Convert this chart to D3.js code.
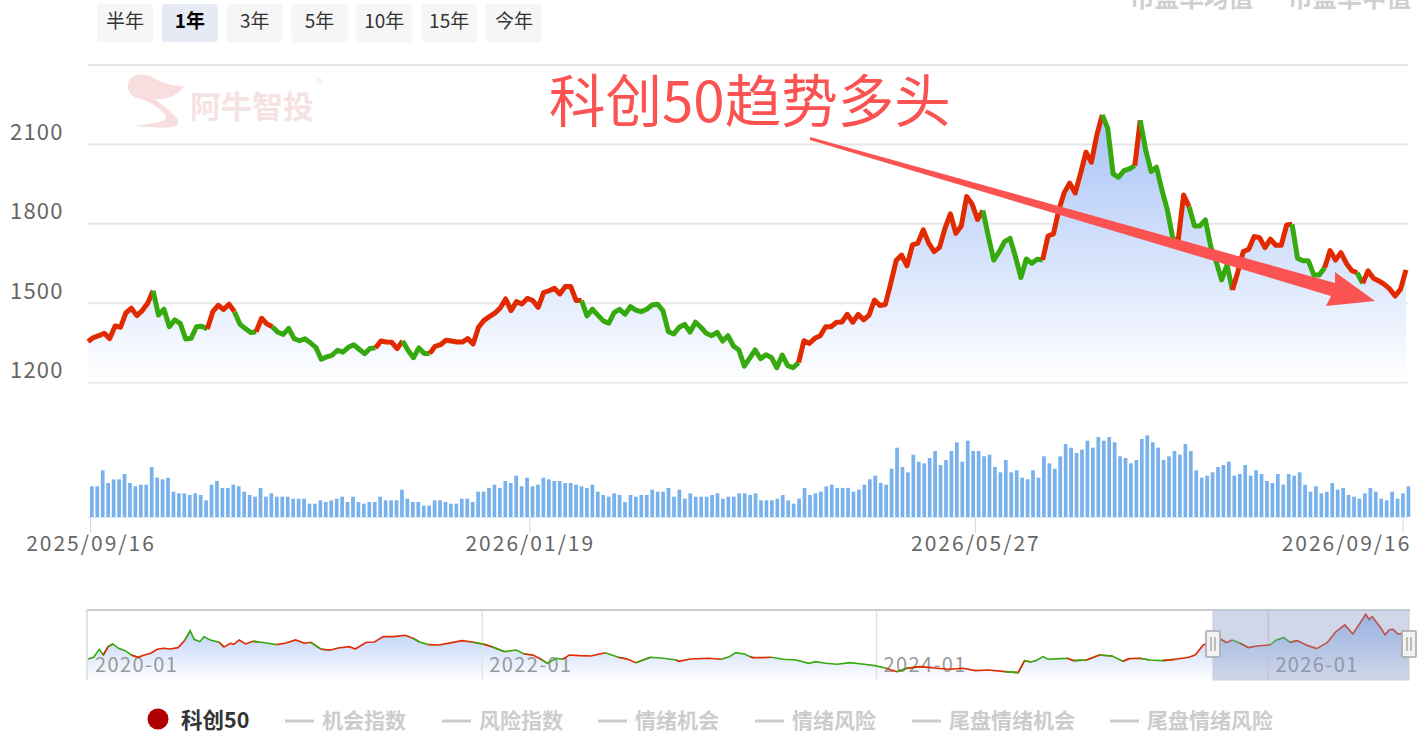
<!DOCTYPE html>
<html><head><meta charset="utf-8">
<script src="https://cdn.jsdelivr.net/npm/d3@7/dist/d3.min.js"></script>
<style>html,body{margin:0;padding:0;background:#fff;overflow:hidden}svg{display:block;font-family:"Noto Sans CJK SC","Noto Sans",sans-serif}</style>
</head><body><svg id="c" width="1419" height="744"></svg>
<script>
const rangeLabels=["半年","1年","3年","5年","10年","15年","今年"];
const yTicks=[1200,1500,1800,2100,2400];
const xTickIndex=[0,81,163,242];
const xTickLabels=["2025/09/16","2026/01/19","2026/05/27","2026/09/16"];
const legendOff=["机会指数","风险指数","情绪机会","情绪风险","尾盘情绪机会","尾盘情绪风险"];
const overviewTickPos=[0,490,980,1467];
const overviewTickLabels=["2020-01","2022-01","2024-01","2026-01"];
const prices=[1353,1368,1375,1384,1364,1412,1407,1462,1479,1451,1470,1498,1545,1453,1475,1409,1435,1422,1363,1365,1409,1411,1400,1466,1490,1474,1494,1466,1419,1402,1387,1390,1441,1419,1409,1388,1380,1403,1364,1356,1363,1348,1331,1286,1295,1301,1320,1313,1331,1341,1324,1307,1327,1329,1355,1351,1350,1326,1355,1320,1292,1329,1308,1308,1335,1341,1358,1355,1351,1351,1364,1344,1407,1433,1447,1460,1480,1514,1470,1504,1495,1516,1508,1482,1538,1545,
1554,1533,1561,1561,1508,1508,1450,1475,1453,1431,1422,1462,1475,1456,1485,1472,1466,1475,1491,1494,1470,1390,1382,1407,1418,1389,1426,1407,1384,1375,1388,1355,1375,1336,1321,1260,1290,1321,1288,1303,1293,1254,1302,1262,1254,1273,1356,1346,1365,1375,1409,1409,1426,1427,1456,1426,1456,1435,1453,1510,1489,1493,
1573,1659,1680,1639,1718,1725,1775,1725,1693,1709,1781,1836,1762,1790,1901,1873,1815,1848,1750,1661,1693,1731,1743,1674,1595,1665,1649,1664,1661,1752,1760,1851,1916,1952,1914,1989,2069,2031,2134,2210,2160,1987,1974,1999,2006,2018,2189,2078,1996,2012,1926,1851,1743,1737,1907,1863,1790,1790,1813,1712,1655,1586,1643,1548,1617,1693,1702,1750,1746,1708,1740,1717,1717,1794,1796,1668,1658,1658,1605,1605,1632,1697,1661,1689,1649,1621,1613,1573,1620,1592,1582,1569,1552,1525,1551,1624];
const trendStarts=[0,12,22,27,31,34,53,58,63,91,131,165,176,187,193,194,201,203,211,222,228,234,235];
const trendKinds=["up","down","up","down","up","down","up","down","up","down","up","down","up","down","up","down","up","down","up","down","up","down","up"];
const volumes=[92,92,140,102,113,113,129,102,92,97,97,150,118,113,118,76,71,71,66,71,66,50,97,108,87,87,97,92,76,66,61,87,61,71,61,61,61,55,55,55,40,40,50,45,50,55,61,45,61,45,40,45,45,61,50,50,50,82,55,45,45,34,34,50,50,45,40,40,55,55,45,76,76,87,97,87,108,102,124,92,118,92,97,118,113,108,108,102,102,97,92,87,97,76,66,61,71,66,45,66,61,66,66,82,76,76,87,61,82,55,71,61,61,61,
66,71,55,61,61,71,71,66,71,50,50,50,55,66,50,40,55,87,66,71,76,92,97,87,87,87,76,82,97,113,124,102,97,145,208,150,134,187,166,161,177,198,156,171,198,224,166,229,198,198,182,187,150,134,171,134,140,118,113,140,118,182,161,145,182,219,208,192,202,229,208,240,229,240,224,182,177,161,171,234,245,224,208,171,182,198,187,219,198,140,118,124,134,150,156,166,124,129,156,124,140,129,108,102,129,97,129,124,134,97,76,92,71,76,102,82,87,66,61,55,71,87,76,55,50,76,55,71,92];
const overviewIndex=[0,7,14,19,25,31,38,46,54,62,70,78,86,94,102,112,120,127,132,139,144,152,163,169,177,181,188,196,205,213,224,234,245,258,269,277,290,301,311,325,332,346,356,367,380,394,404,412,423,436,452,465,479,492,502,518,532,542,553,563,571,582,590,598,611,625,643,659,670,681,699,715,731,734,749,771,787,797,805,816,823,
827,838,849,864,880,896,904,917,931,947,962,978,992,1005,1018,1034,1055,1071,1087,1103,1119,1140,1156,1164,1172,1178,1187,1193,1209,1217,1225,1241,1257,1273,1286,1294,1307,1320,1336,1352,1368,1376,1386,1397,1408,1415,1422,1432,1442,1453,1469,1477,1486,1494,1503,1514,1527,1540,1551,1562,1572,1588,1592,1596,1607,1612,1617,1622,1628,1641];
const overviewValues=[968,1015,1237,1079,1311,1385,1265,1200,1079,1015,1079,1126,1237,1265,1246,1283,1478,1756,1515,1450,1589,1497,1432,1302,1404,1376,1497,1385,1459,1441,1404,1367,1404,1497,1404,1432,1237,1219,1274,1311,1246,1432,1441,1589,1589,1626,1543,1441,1367,1358,1422,1478,1432,1376,1311,1172,1219,1107,1079,959,848,987,959,1079,1061,1052,1144,1015,968,866,1015,987,940,903,968,987,959,1033,1144,1107,1033,
1005,1005,1015,959,940,848,894,848,820,866,829,783,709,616,709,755,709,681,709,644,662,616,588,922,885,922,1033,959,977,987,922,940,1079,1052,903,977,987,940,922,959,1015,1079,1358,1450,1515,1422,1497,1404,1283,1330,1358,1497,1561,1432,1478,1358,1256,1422,1728,1914,1663,2210,2071,2145,1821,1636,1775,1793,1663,1682];
const overviewStarts=[0,25,31,62,127,169,213,240,290,301,412,430,492,502,518,553,571,596,650,670,699,734,790,827,850,1000,1018,1034,1156,1164,1172,1225,1241,1257,1273,1294,1320,1352,1408,1415,1425,1442,1470,1503,1530,1537];
const overviewKinds=["down","up","down","up","down","up","down","up","down","up","down","up","down","up","down","up","down","up","down","up","down","up","down","up","down","up","down","up","down","up","down","up","down","up","down","up","down","up","down","up","down","up","down","up","down","up"];

const RED="#e22a00",GREEN="#36a90f",ACC="#fb5252";
const svg=d3.select("#c");
const defs=svg.append("defs");
const g1=defs.append("linearGradient").attr("id","ga").attr("gradientUnits","userSpaceOnUse").attr("x1",0).attr("x2",0).attr("y1",115).attr("y2",382);
g1.append("stop").attr("offset",0).attr("stop-color","#a8c3f7");
g1.append("stop").attr("offset",1).attr("stop-color","#ffffff");
const g2=defs.append("linearGradient").attr("id","gb").attr("gradientUnits","userSpaceOnUse").attr("x1",0).attr("x2",0).attr("y1",614).attr("y2",680);
g2.append("stop").attr("offset",0).attr("stop-color","#a9c3f6");
g2.append("stop").attr("offset",1).attr("stop-color","#ffffff");

// range buttons
const btnX=d3.scalePoint().domain(rangeLabels).range([97,486]);
rangeLabels.forEach((t,i)=>{
  const x=btnX(t);
  svg.append("rect").attr("x",x).attr("y",4).attr("width",56).attr("height",38).attr("rx",3).attr("fill",i==1?"#e6eaf5":"#f6f6f6");
  svg.append("text").attr("x",x+28).attr("y",28).attr("text-anchor","middle").attr("font-size",19).attr("font-weight",i==1?700:400).attr("fill",i==1?"#000":"#333").text(t);
});
// labels clipped by the top edge, as in the reference
[["市盈率均值",1130],["市盈率中值",1288]].forEach(([t,x])=>svg.append("text").attr("x",x).attr("y",7).attr("font-size",24.6).attr("font-weight",700).attr("fill","#cfcfcf").text(t));

// main scales
const x=d3.scalePoint().domain(d3.range(prices.length)).range([88,1406]);
const y=d3.scaleLinear().domain([1200,2400]).range([382,64.6]);
const yAxis=d3.axisLeft(y).tickValues(yTicks).tickSize(-1320).tickFormat("");
const gy=svg.append("g").attr("transform","translate(88,0)").call(yAxis);
gy.select(".domain").remove();
gy.selectAll("line").attr("stroke","#e6e6e6").attr("stroke-width",2);
yTicks.filter(v=>v<2400).forEach(v=>svg.append("text").attr("x",10).attr("y",y(v)-4).attr("font-size",22).attr("letter-spacing",1.2).attr("fill","#666").text(v));

// watermark
const wm=svg.append("g").attr("fill","#f8dede");
wm.append("path").attr("d","M128 84C130 74 142 72 152 77C162 83 170 86 184 86C178 96 166 100 155 99C165 108 180 116 178 124C174 130 150 127 134 126C150 124 168 122 166 116C160 108 148 100 136 98C130 95 127 90 128 84Z");
wm.append("text").attr("x",190).attr("y",118).attr("font-size",31).attr("font-weight",700).attr("fill","#f6e2e2").text("阿牛智投");
wm.append("text").attr("x",316).attr("y",89).attr("font-size",14).attr("fill","#f9e6e6").text("®");

// area + coloured line
svg.append("path").attr("d",d3.area().x((d,i)=>x(i)).y0(382).y1(d=>y(d))(prices)).attr("fill","url(#ga)");
const line=d3.line().x(d=>x(d.i)).y(d=>y(d.v));
const pts=prices.map((v,i)=>({i,v}));
trendStarts.forEach((s,k)=>{
  const e=k+1<trendStarts.length?trendStarts[k+1]:prices.length-1;
  svg.append("path").attr("d",line(pts.slice(s,e+1))).attr("fill","none").attr("stroke",trendKinds[k]=="up"?RED:GREEN).attr("stroke-width",5).attr("stroke-linejoin","round");
});

// volume
const b=d3.scaleBand().domain(d3.range(volumes.length)).range([90,1412]);
const v=d3.scaleLinear().domain([0,300]).range([517,417]);
svg.append("line").attr("x1",88).attr("x2",1408).attr("y1",517.5).attr("y2",517.5).attr("stroke","#dfe6f3").attr("stroke-width",1);
svg.selectAll("rect.v").data(volumes).join("rect").attr("class","v").attr("x",(d,i)=>b(i)).attr("width",3.7).attr("y",d=>v(d)).attr("height",d=>517-v(d)).attr("fill","#78b1ec");

// x ticks
xTickIndex.forEach((ix,k)=>{
  const px=x(ix)+2.5+(k==2?0.8:0);
  svg.append("line").attr("x1",px).attr("x2",px).attr("y1",517).attr("y2",533).attr("stroke","#ccd6eb").attr("stroke-width",1);
  const lx=Math.min(px,1346);
  svg.append("text").attr("x",lx+0.5).attr("y",551).attr("text-anchor","middle").attr("font-size",21).attr("letter-spacing",2).attr("fill","#666").text(xTickLabels[k]);
});

// overview
const ox=d3.scaleLinear().domain([0,1643]).range([88,1410]);
const oy=d3.scaleLinear().domain([384,2210]).range([680,614.3]);
svg.append("path").attr("d",d3.area().x((d,i)=>ox(overviewIndex[i])).y0(680).y1(d=>oy(d))(overviewValues)).attr("fill","url(#gb)");
overviewTickPos.forEach((p,k)=>{
  if(k>0) svg.append("line").attr("x1",ox(p)).attr("x2",ox(p)).attr("y1",610).attr("y2",680).attr("stroke","#e2e2e2").attr("stroke-width",1.5);
  svg.append("text").attr("x",ox(p)+7).attr("y",672).attr("font-size",20).attr("letter-spacing",1.4).attr("fill","#999").text(overviewTickLabels[k]);
});
svg.append("line").attr("x1",87).attr("x2",87).attr("y1",610).attr("y2",680).attr("stroke","#ddd").attr("stroke-width",1.5);
svg.append("line").attr("x1",87).attr("x2",1410).attr("y1",610).attr("y2",610).attr("stroke","#ccc").attr("stroke-width",2);
const oPts=overviewValues.map((d,i)=>({n:overviewIndex[i],d}));
const oline=d3.line().x(d=>ox(d.n)).y(d=>oy(d.d));
overviewStarts.forEach((s,k)=>{
  const e=k+1<overviewStarts.length?overviewStarts[k+1]:1e9;
  const seg=oPts.filter(p=>p.n>=s&&p.n<=e);
  const prev=oPts.filter(p=>p.n<s).pop();
  if(prev) seg.unshift(prev);
  svg.append("path").attr("d",oline(seg)).attr("fill","none").attr("stroke",overviewKinds[k]=="up"?RED:GREEN).attr("stroke-width",1.6);
});
svg.append("rect").attr("x",1213).attr("y",610).attr("width",196).attr("height",70).attr("fill","rgba(130,150,195,.38)").attr("stroke","#c5cbd8").attr("stroke-width",1);
[1213,1409].forEach(hx=>{
  svg.append("rect").attr("x",hx-7).attr("y",631).attr("width",14).attr("height",26).attr("rx",1).attr("fill","#f2f2f2").attr("stroke","#a8a8a8").attr("stroke-width",1.6);
  [-2,2].forEach(dx=>svg.append("line").attr("x1",hx+dx).attr("x2",hx+dx).attr("y1",637).attr("y2",651).attr("stroke","#999").attr("stroke-width",1.2));
});

// legend
svg.append("circle").attr("cx",158).attr("cy",719).attr("r",10.5).attr("fill","#b00000");
svg.append("text").attr("x",181).attr("y",728).attr("font-size",21.5).attr("font-weight",700).attr("fill","#333").text("科创50");
const legendLineX=[285,442,598,755,912,1110];
legendOff.forEach((t,i)=>{
  svg.append("line").attr("x1",legendLineX[i]).attr("x2",legendLineX[i]+29).attr("y1",721).attr("y2",721).attr("stroke","#ccc").attr("stroke-width",3);
  svg.append("text").attr("x",legendLineX[i]+37).attr("y",728).attr("font-size",21).attr("font-weight",700).attr("fill","#ccc").text(t);
});

// annotation
svg.append("text").attr("x",549).attr("y",122).attr("font-size",56.5).attr("fill",ACC).text("科创50趋势多头");
svg.append("path").attr("d","M810 137L1335 283L1335 272L1375 301L1326 306L1331 296L810 140Z").attr("fill",ACC);
</script></body></html>
